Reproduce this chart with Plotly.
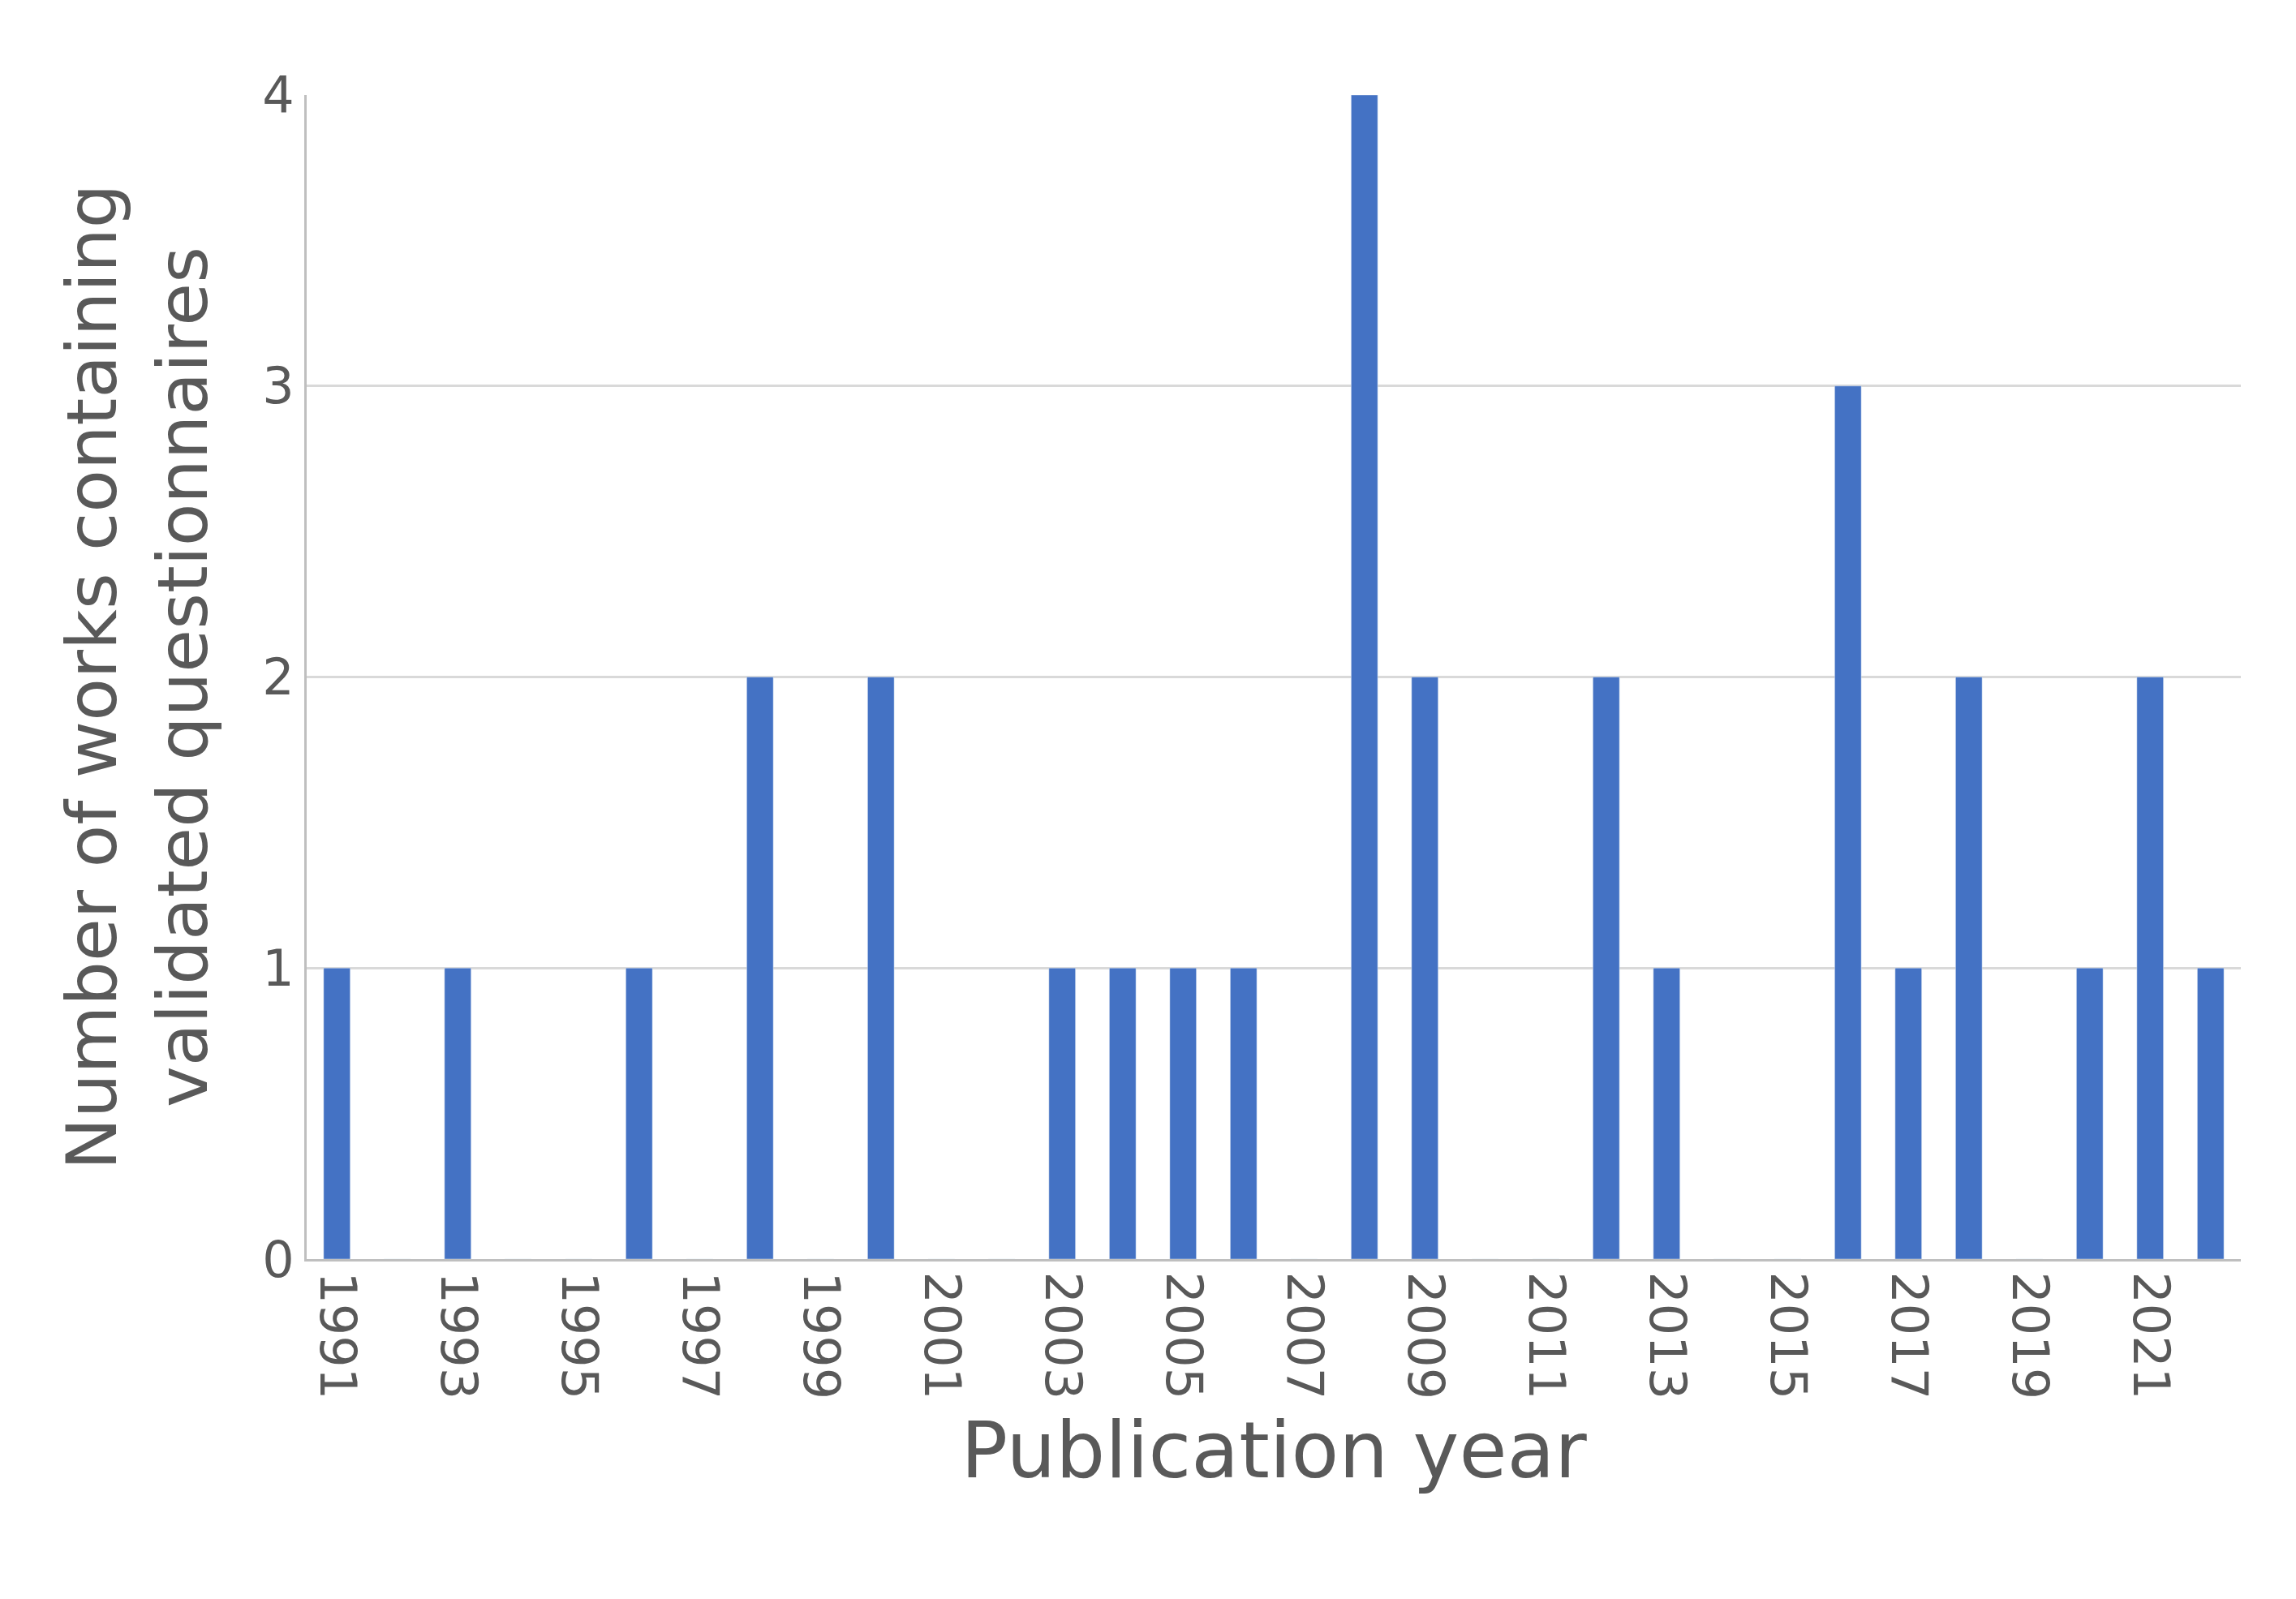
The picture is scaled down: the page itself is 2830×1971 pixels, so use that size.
import plotly.graph_objects as go

years = list(range(1991, 2023))
counts_map = {1991:1, 1993:1, 1996:1, 1998:2, 2000:2, 2003:1, 2004:1, 2005:1, 2006:1,
              2008:4, 2009:2, 2012:2, 2013:1, 2016:3, 2017:1, 2018:2, 2020:1, 2021:2, 2022:1}
counts = [counts_map.get(y, 0) for y in years]
tick_years = [y for y in years if y % 2 == 1]

fig = go.Figure(go.Bar(x=[str(y) for y in years], y=counts, marker_color="#4472C4"))
fig.update_layout(
    width=2830, height=1971, plot_bgcolor="white", paper_bgcolor="white",
    margin=dict(l=370, r=76, t=109, b=427), bargap=0.56,
    font=dict(family="DejaVu Sans", color="#595959"),
    showlegend=False,
)
fig.update_xaxes(type="category", tickmode="array",
                 tickvals=[str(y) for y in tick_years], ticktext=[str(y) for y in tick_years],
                 tickangle=90, tickfont=dict(size=62), showline=True, linecolor="#bfbfbf", linewidth=3,
                 title=dict(text="Publication year", font=dict(size=96), standoff=30))
fig.update_yaxes(range=[0, 4], dtick=1, tickfont=dict(size=62), showgrid=True, gridcolor="#d9d9d9",
                 gridwidth=3, showline=True, linecolor="#bfbfbf", linewidth=3, zeroline=False,
                 ticks="", ticklen=0,
                 title=dict(text="Number of works containing<br>validated questionnaires", font=dict(size=86), standoff=40))
fig.write_html("out.html")
